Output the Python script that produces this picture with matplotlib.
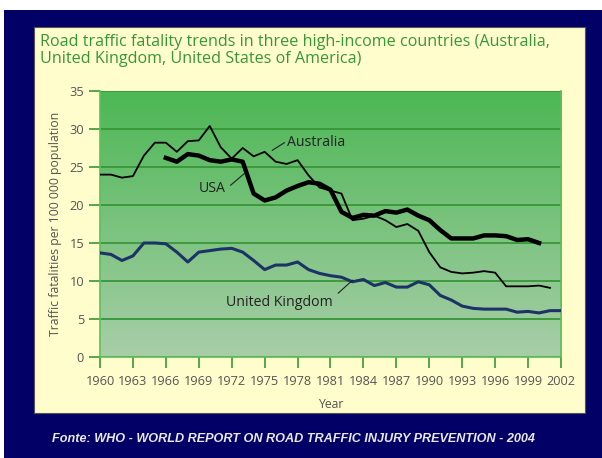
import matplotlib
matplotlib.use("Agg")
import matplotlib.pyplot as plt
import numpy as np
from matplotlib.patches import Rectangle

# dados
anos_aus = list(range(1960, 2002))
australia = [24.0, 24.0, 23.6, 23.8, 26.5, 28.2, 28.2, 27.0, 28.4, 28.5,
             30.4, 27.6, 26.1, 27.5, 26.4, 27.0, 25.7, 25.4, 25.9, 23.9,
             22.3, 21.9, 21.5, 18.0, 18.2, 18.6, 18.0, 17.1, 17.5, 16.6,
             13.8, 11.8, 11.2, 11.0, 11.1, 11.3, 11.1, 9.3, 9.3, 9.3,
             9.4, 9.1]

anos_usa = list(range(1966, 2001))
usa = [26.2, 25.7, 26.7, 26.5, 25.9, 25.7, 26.0, 25.7, 21.5, 20.6,
       21.0, 21.9, 22.5, 23.0, 22.8, 22.0, 19.1, 18.3, 18.7, 18.6,
       19.2, 19.0, 19.4, 18.6, 18.0, 16.7, 15.6, 15.6, 15.6, 16.0,
       16.0, 15.9, 15.4, 15.5, 15.0]

anos_uk = list(range(1960, 2003))
uk = [13.7, 13.5, 12.7, 13.3, 15.0, 15.0, 14.9, 13.8, 12.5, 13.8,
      14.0, 14.2, 14.3, 13.8, 12.7, 11.5, 12.1, 12.1, 12.5, 11.5,
      11.0, 10.7, 10.5, 9.9, 10.2, 9.4, 9.8, 9.2, 9.2, 9.9,
      9.5, 8.1, 7.5, 6.7, 6.4, 6.3, 6.3, 6.3, 5.9, 6.0,
      5.8, 6.1, 6.1]

xticks = list(range(1960, 2003, 3))
yticks = list(range(0, 36, 5))

fonte = "Open Sans"
verde = "#379737"
cinza = "#555555"

fig = plt.figure(figsize=(6.02, 4.58), dpi=100)
fig.patch.set_facecolor("white")

# fundo azul e painel creme
fig.patches.append(Rectangle((0.0066, 0), 0.9934, 0.978, transform=fig.transFigure,
                             facecolor="#020066", edgecolor="none", zorder=-3))
fig.patches.append(Rectangle((0.0565, 0.0983), 0.9153, 0.8428, transform=fig.transFigure,
                             facecolor="#fffdcc", edgecolor="#555555", linewidth=0.8, zorder=-2))

ax = fig.add_axes([0.1661, 0.2205, 0.7658, 0.5808])
ax.set_facecolor("none")

# gradiente verde
topo = np.array([76, 183, 84]) / 255
base = np.array([168, 206, 168]) / 255
t = np.linspace(0, 1, 256)[:, None]
grad = (topo * (1 - t) + base * t)[:, None, :]
ax.imshow(grad, extent=[1960, 2002, 0, 35], aspect="auto", zorder=0)

ax.set_xlim(1960, 2002)
ax.set_ylim(0, 35)
for y in yticks:
    ax.axhline(y, color=verde, linewidth=1.3, zorder=1)

ax.plot(anos_uk, uk, color="#1d3266", linewidth=2.2, zorder=3)
ax.plot(anos_aus, australia, color="black", linewidth=1.3, zorder=4)
ax.plot(anos_usa, usa, color="black", linewidth=3.2, zorder=5)

# rotulos das series
ax.text(1977.0, 28.2, "Australia", fontsize=10.2, family=fonte, color="#222222", va="center")
ax.plot([1975.7, 1976.8], [27.2, 28.2], color="#222222", linewidth=0.8, zorder=6)
ax.text(1969.0, 22.2, "USA", fontsize=10.2, family=fonte, color="#222222", va="center")
ax.plot([1971.9, 1973.2], [22.6, 24.2], color="#222222", linewidth=0.8, zorder=6)
ax.text(1971.5, 7.2, "United Kingdom", fontsize=10.2, family=fonte, color="#222222", va="center")
ax.plot([1981.7, 1983.0], [8.4, 10.1], color="#222222", linewidth=0.8, zorder=6)

ax.set_xticks(xticks)
ax.set_yticks(yticks)
ax.tick_params(axis="both", colors=verde, labelcolor=cinza, labelsize=9.2, length=8, width=1.2)
ax.tick_params(axis="x", pad=5)
for lbl in ax.get_xticklabels() + ax.get_yticklabels():
    lbl.set_family(fonte)
for s in ["left", "right", "bottom"]:
    ax.spines[s].set_color("#5cbf5c")
    ax.spines[s].set_linewidth(1.2)
ax.spines["top"].set_visible(False)

ax.set_xlabel("Year", fontsize=8.8, family=fonte, color=cinza, labelpad=7)
ax.set_ylabel("Traffic fatalities per 100 000 population", fontsize=8.8, family=fonte,
              color=cinza, labelpad=5)

fig.text(0.066, 0.925, "Road traffic fatality trends in three high-income countries (Australia,\n"
         "United Kingdom, United States of America)", fontsize=11.6, family=fonte,
         color=verde, va="top", linespacing=1.05)

fig.text(0.488, 0.042, "Fonte: WHO - WORLD REPORT ON ROAD TRAFFIC INJURY PREVENTION - 2004",
         fontsize=9.1, family="Liberation Sans", weight="bold", style="italic",
         color="#e8e8e8", ha="center", va="center")

fig.savefig("out.png", dpi=100)
